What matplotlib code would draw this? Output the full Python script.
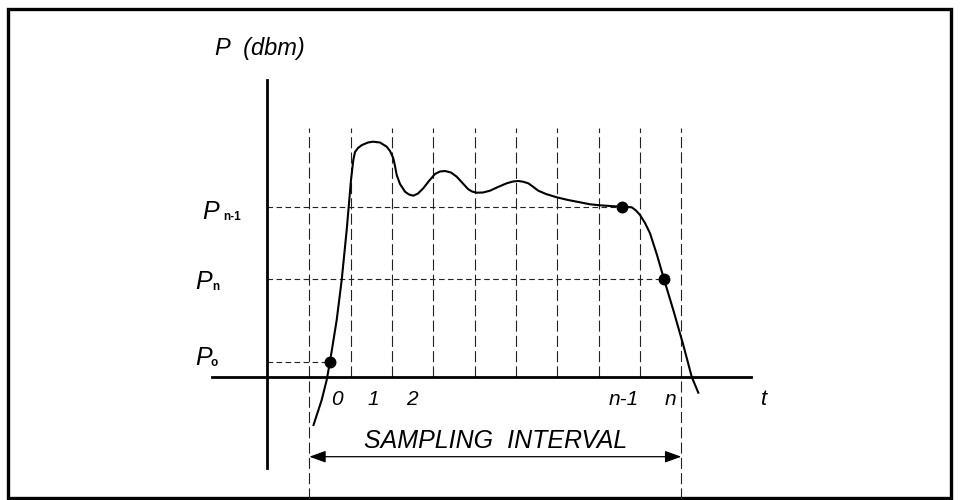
"""
Schematic of a sampled power curve P(t) over a sampling interval.
Saves out.png (961x500).
"""

import matplotlib as mpl
import matplotlib.pyplot as plt
from matplotlib.patches import Rectangle

mpl.rcParams.update({
    "font.family": ["Liberation Sans", "DejaVu Sans"],
    "lines.scale_dashes": False,
})

# ── data (t in sample units, P in arbitrary dBm units) ────────────────────────
curve_t = [-0.399, -0.201, -0.080, 0.000, 0.162, 0.283, 0.404, 0.508, 0.564, 0.605,
           0.677, 0.774, 0.919, 1.040, 1.210, 1.372, 1.452, 1.532, 1.573, 1.614,
           1.694, 1.815, 1.911, 2.015, 2.129, 2.257, 2.395, 2.540, 2.661, 2.782,
           2.927, 3.066, 3.194, 3.346, 3.436, 3.549, 3.702, 3.871, 4.065, 4.275,
           4.428, 4.556, 4.670, 4.798, 4.912, 5.040, 5.226, 5.485, 5.759, 6.049,
           6.291, 6.533, 6.775, 7.058, 7.186, 7.300, 7.404, 7.501, 7.622, 7.743,
           7.912, 8.082, 8.306, 8.548, 8.751, 8.911]
curve_p = [-4.83, -2.33, -0.33, 1.50, 5.67, 9.67, 14.67, 19.67, 21.67, 22.47,
           22.87, 23.17, 23.42, 23.50, 23.42, 23.00, 22.57, 21.84, 21.07, 20.17,
           19.27, 18.50, 18.22, 18.10, 18.32, 18.84, 19.57, 20.27, 20.52, 20.57,
           20.42, 20.00, 19.42, 18.74, 18.52, 18.40, 18.42, 18.60, 18.97, 19.34,
           19.52, 19.57, 19.50, 19.34, 19.00, 18.60, 18.27, 17.94, 17.67, 17.44,
           17.24, 17.14, 17.07, 17.00, 16.97, 16.94, 16.62, 16.17, 15.37, 14.34,
           12.17, 9.74, 6.67, 3.17, 0.00, -1.60]

# sampled points P_o, P_n-1, P_n
sample_names = ["o", "n-1", "n"]
sample_t = [0.0, 7.058, 8.082]
sample_p = [1.50, 17.00, 9.74]

# sample cell boundaries (vertical dashed grid)
grid_t = [-0.5, 0.5, 1.5, 2.5, 3.5, 4.5, 5.5, 6.5, 7.5, 8.5]
grid_top = 24.87

tick_labels = ["0", "1", "2", "n-1", "n"]
tick_t = [0.17, 1.04, 1.98, 7.11, 8.23]

# ── layout (pixel mapping of the schematic) ───────────────────────────────────
W, H = 961, 500
X0_PX, PX_PER_T = 330.0, 41.33
Y0_PX, PX_PER_P = 376.7, 10.0
PT = 72.0 / 100.0  # points per pixel at dpi 100

AXIS_T = -1.53
AXIS_TOP, AXIS_BOTTOM = 29.67, -9.13
XAXIS_LEFT, XAXIS_RIGHT = -2.86, 10.19
OUTER_BOTTOM = -12.2
ARROW_P = -8.0

fig = plt.figure(figsize=(W / 100, H / 100), dpi=100)
ax = fig.add_axes([0, 0, 1, 1])
ax.set_xlim((0 - X0_PX) / PX_PER_T, (W - X0_PX) / PX_PER_T)
ax.set_ylim((Y0_PX - H) / PX_PER_P, Y0_PX / PX_PER_P)
ax.axis("off")

# frame
ax.add_patch(Rectangle((8 / W, 2.5 / H), 942.5 / W, 489 / H, transform=ax.transAxes,
                       fill=False, edgecolor="black", linewidth=2.4, zorder=1))

# vertical dashed grid
vdash = (0, (8.0, 3.0))
for i, t in enumerate(grid_t):
    bottom = OUTER_BOTTOM if i in (0, len(grid_t) - 1) else 0
    ax.plot([t, t], [bottom, grid_top], color="#222222", linewidth=0.8,
            linestyle=vdash, zorder=2)

# horizontal dashed level lines to sampled points
hdash = (0, (4.0, 2.5))
for t, p in zip(sample_t, sample_p):
    ax.plot([AXIS_T, t], [p, p], color="#222222", linewidth=0.8, linestyle=hdash, zorder=2)

# axes
ax.plot([AXIS_T, AXIS_T], [AXIS_BOTTOM, AXIS_TOP], color="black", linewidth=2.0, zorder=3)
ax.plot([XAXIS_LEFT, XAXIS_RIGHT], [0, 0], color="black", linewidth=2.0, zorder=3)

# curve and sampled points
ax.plot(curve_t, curve_p, color="black", linewidth=1.5, solid_joinstyle="round", zorder=4)
ax.plot(sample_t, sample_p, "o", color="black", markersize=10.5 * PT, zorder=5)

# sampling interval arrow
ax.annotate("", xy=(grid_t[-1], ARROW_P), xytext=(grid_t[0], ARROW_P),
            arrowprops=dict(arrowstyle="<|-|>,head_length=0.5,head_width=0.18",
                            mutation_scale=20, color="black", linewidth=0.9,
                            shrinkA=0, shrinkB=0), zorder=4)
ax.text((grid_t[0] + grid_t[-1]) / 2, -7.13, "SAMPLING  INTERVAL", ha="center",
        va="baseline", fontsize=18, style="italic")

# axis titles and tick labels
ax.text(-2.78, 32.17, "P  (dbm)", ha="left", va="baseline", fontsize=17, style="italic")
ax.text(10.5, -2.83, "t", ha="center", va="baseline", fontsize=16, style="italic")
for lab, t in zip(tick_labels, tick_t):
    ax.text(t, -2.83, lab, ha="center", va="baseline", fontsize=15, style="italic")

# level labels P_o, P_n, P_n-1
level_labels = [("o", -3.27, 1.17, 16), ("n", -3.27, 8.8, 17), ("n-1", -3.10, 15.8, 21)]
for sub, t, p, off_px in level_labels:
    ax.text(t, p, "P", ha="left", va="baseline", fontsize=18, style="italic")
    ax.annotate(sub, xy=(t, p), xytext=(off_px * PT, -1.0), textcoords="offset points",
                ha="left", va="baseline", fontsize=8.5, fontweight="bold")

fig.savefig("out.png", dpi=100)
